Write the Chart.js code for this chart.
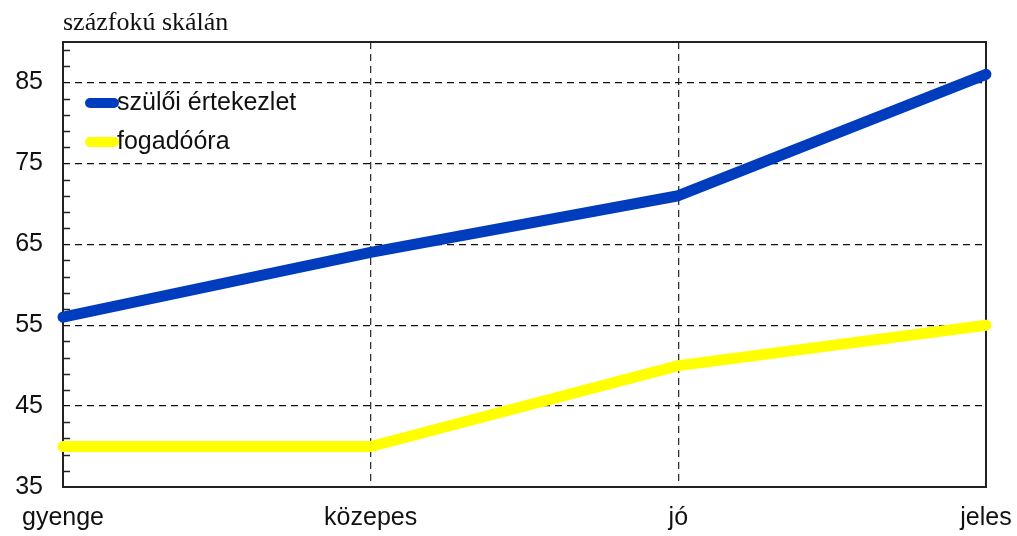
<!DOCTYPE html>
<html>
<head>
<meta charset="utf-8">
<script src="https://cdn.jsdelivr.net/npm/chart.js@4/dist/chart.umd.min.js"></script>
<style>
  html, body { margin: 0; padding: 0; background: #fff; }
  .chart-container { position: relative; width: 1017px; height: 536px; }
</style>
</head>
<body>
<div class="chart-container"><canvas id="myChart"></canvas></div>
<script>
// data
const categories = ["gyenge", "közepes", "jó", "jeles"];
const szuloiValues = [56, 64, 71, 86];
const fogadoValues = [40, 40, 50, 55];
const yTicks = [35, 45, 55, 65, 75, 85];
const yMin = 35;
const yMax = 90;
const titleText = "százfokú skálán";

const SANS = "Arial, 'Liberation Sans', sans-serif";
const SERIF = "'Times New Roman', 'Liberation Serif', serif";

var ctx = document.getElementById("myChart");

// frame, minor ticks, title, legend inside plot
const decorations = {
  id: "decorations",
  beforeDatasetsDraw(chart) {
    let c = chart.ctx;
    let { left, right, top, bottom } = chart.chartArea;
    let y = chart.scales.y;
    c.save();
    c.strokeStyle = "#222";
    c.lineWidth = 2;
    c.strokeRect(left, top, right - left, bottom - top);
    // minor ticks every 2 units, pointing inward
    c.lineWidth = 1.5;
    for (let v = yMin + 2; v < yMax; v += 2) {
      if (yTicks.includes(v)) continue;
      let py = Math.round(y.getPixelForValue(v)) + 0.5;
      c.beginPath();
      c.moveTo(left, py);
      c.lineTo(left + 7, py);
      c.stroke();
    }
    c.restore();
  },
  afterDraw(chart) {
    let c = chart.ctx;
    let { left, top } = chart.chartArea;
    c.save();
    c.fillStyle = "#111";
    c.font = "26px " + SERIF;
    c.textBaseline = "alphabetic";
    c.textAlign = "left";
    c.fillText(titleText, left, 30);

    c.font = "25px " + SANS;
    c.textBaseline = "middle";
    chart.data.datasets.forEach((ds, i) => {
      let ly = top + 61 + i * 39;
      c.strokeStyle = ds.borderColor;
      c.lineWidth = 10;
      c.lineCap = "round";
      c.beginPath();
      c.moveTo(left + 27, ly);
      c.lineTo(left + 51, ly);
      c.stroke();
      c.fillStyle = "#111";
      c.fillText(ds.label, left + 54, ly);
    });
    c.restore();
  }
};

var myChart = new Chart(ctx, {
  type: "line",
  data: {
    labels: categories,
    datasets: [
      {
        label: "szülői értekezlet",
        data: szuloiValues,
        borderColor: "#003cbe",
        backgroundColor: "#003cbe",
        borderWidth: 11,
        borderCapStyle: "round",
        borderJoinStyle: "round",
        pointRadius: 0,
        tension: 0,
        fill: false,
        clip: false
      },
      {
        label: "fogadóóra",
        data: fogadoValues,
        borderColor: "#ffff00",
        backgroundColor: "#ffff00",
        borderWidth: 11,
        borderCapStyle: "round",
        borderJoinStyle: "round",
        pointRadius: 0,
        tension: 0,
        fill: false,
        clip: false
      }
    ]
  },
  options: {
    responsive: true,
    maintainAspectRatio: false,
    animation: false,
    devicePixelRatio: 1,
    layout: { padding: { top: 42, right: 31, bottom: 0, left: 0 } },
    plugins: {
      legend: { display: false },
      title: { display: false },
      tooltip: { enabled: false }
    },
    scales: {
      x: {
        offset: false,
        afterFit: (s) => { s.height = 49; s.paddingLeft = 0; s.paddingRight = 0; },
        border: { display: false, dash: [7, 5] },
        grid: {
          drawTicks: false,
          lineWidth: 1.3,
          color: (c) => (c.index === 0 || c.index === categories.length - 1) ? "rgba(0,0,0,0)" : "#333"
        },
        ticks: {
          padding: 16,
          color: "#111",
          maxRotation: 0,
          autoSkip: false,
          font: { family: SANS, size: 25 }
        }
      },
      y: {
        min: yMin,
        max: yMax,
        afterFit: (s) => { s.width = 63; s.paddingTop = 0; s.paddingBottom = 0; },
        afterBuildTicks: (s) => { s.ticks = yTicks.map((v) => ({ value: v })); },
        border: { display: false, dash: [7, 5] },
        grid: {
          drawTicks: false,
          lineWidth: 1.3,
          color: (c) => (c.tick && c.tick.value === yMin) ? "rgba(0,0,0,0)" : "#111"
        },
        ticks: {
          padding: 20,
          color: "#111",
          font: { family: SANS, size: 25 }
        }
      }
    }
  },
  plugins: [decorations]
});
</script>
</body>
</html>
